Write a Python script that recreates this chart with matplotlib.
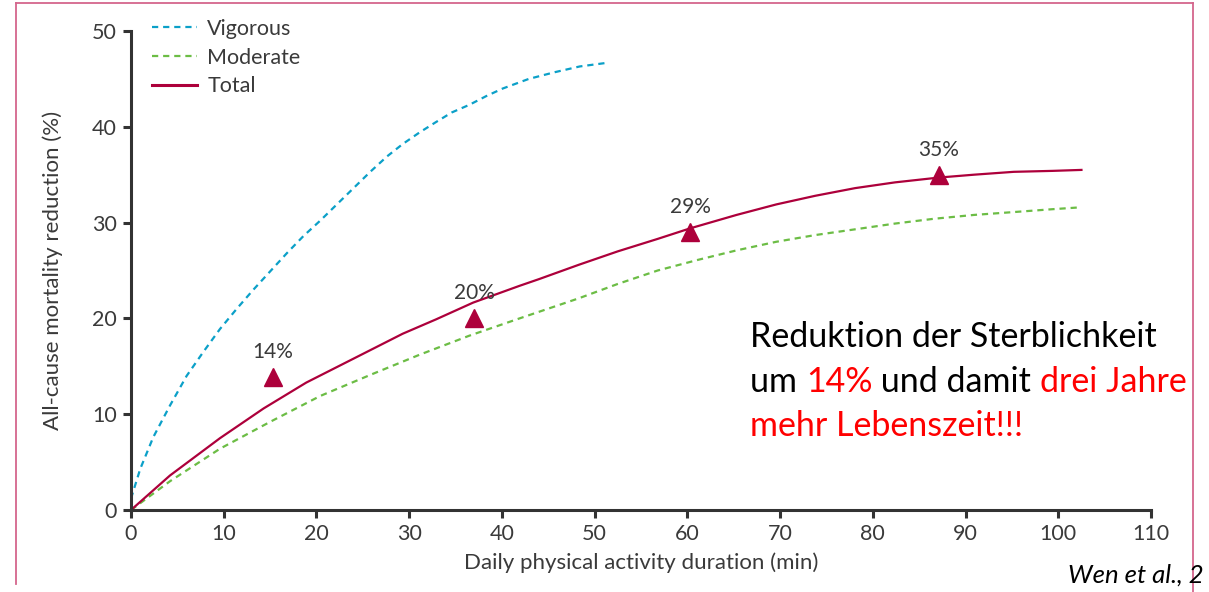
import matplotlib
matplotlib.use("Agg")
import matplotlib.pyplot as plt
from matplotlib.lines import Line2D

plt.rcParams['font.family'] = ['Lato', 'DejaVu Sans']

# curves (minutes, % reduction)
vig_x = [0, 1.0, 2.4, 4.2, 6.0, 7.8, 9.6, 11.4, 13.2, 15.0, 16.8, 18.6, 20.4, 22.2, 24.0,
         25.8, 27.6, 29.3, 31.1, 32.9, 34.6, 36.5, 38.3, 40.1, 42.9, 45.7, 48.4, 51.5]
vig_y = [1.2, 4.3, 7.6, 10.9, 14.0, 16.5, 18.9, 21.0, 23.0, 24.9, 26.8, 28.6, 30.2, 31.9, 33.6,
         35.3, 36.9, 38.2, 39.4, 40.5, 41.5, 42.3, 43.2, 44.0, 45.0, 45.7, 46.3, 46.7]

mod_x = [0, 4.2, 9.6, 15.0, 20.4, 25.8, 31.1, 36.5, 41.9, 48.3, 52.5, 56.8, 61.1, 65.3,
         69.6, 73.8, 78.1, 82.4, 86.6, 90.9, 95.2, 99.4, 102.5]
mod_y = [0, 3.0, 6.4, 9.2, 11.9, 14.1, 16.2, 18.2, 20.0, 22.1, 23.6, 25.0, 26.1, 27.1,
         28.0, 28.7, 29.3, 29.9, 30.4, 30.8, 31.1, 31.4, 31.6]

tot_x = [0, 4.2, 9.6, 14.3, 18.9, 24.0, 29.3, 32.9, 36.9, 41.9, 44.0, 48.3, 52.5, 56.8,
         60.3, 65.3, 69.6, 73.8, 78.1, 82.4, 87.1, 90.9, 95.2, 99.4, 102.5]
tot_y = [0, 3.6, 7.5, 10.6, 13.3, 15.8, 18.4, 19.9, 21.65, 23.4, 24.1, 25.6, 27.0, 28.3,
         29.4, 30.8, 31.9, 32.8, 33.6, 34.2, 34.7, 35.0, 35.3, 35.4, 35.5]

pt_x = [15.3, 37.0, 60.3, 87.1]
pt_y = [13.9, 20.0, 29.0, 35.0]
pt_labels = ['14%', '20%', '29%', '35%']

blue = '#0ba0c8'
green = '#6cbd45'
crimson = '#ad003b'
dark = '#333333'
txt = '#3a3a3a'

fig = plt.figure(figsize=(12.09, 5.92), dpi=100)
ax = fig.add_axes([131 / 1209, 1 - 510 / 592, 1020 / 1209, 479 / 592])

ax.plot(vig_x, vig_y, color=blue, lw=1.6, dashes=(2.8, 2.2))
ax.plot(mod_x, mod_y, color=green, lw=1.6, dashes=(2.8, 2.2))
ax.plot(tot_x, tot_y, color=crimson, lw=1.6)
ax.plot(pt_x, pt_y, ls='none', marker='^', ms=13, color=crimson, mec=crimson)
for x, y, s in zip(pt_x, pt_y, pt_labels):
    ax.annotate(s, (x, y), xytext=(0, 18), textcoords='offset points',
                ha='center', va='center', fontsize=15, color=txt)

ax.set_xlim(0, 110)
ax.set_ylim(0, 50)
ax.set_xticks(range(0, 111, 10))
ax.set_yticks(range(0, 51, 10))
for side in ['top', 'right']:
    ax.spines[side].set_visible(False)
for side in ['left', 'bottom']:
    ax.spines[side].set_linewidth(2.2)
    ax.spines[side].set_color(dark)
ax.tick_params(length=6, width=2.2, color=dark, labelcolor=txt, labelsize=15.5, pad=4)
ax.set_xlabel('Daily physical activity duration (min)', fontsize=16, color=txt, labelpad=6)
ax.set_ylabel('All-cause mortality reduction (%)', fontsize=16, color=txt, labelpad=21)

handles = [Line2D([], [], color=blue, lw=1.6, dashes=(2.8, 2.2)),
           Line2D([], [], color=green, lw=1.6, dashes=(2.8, 2.2)),
           Line2D([], [], color=crimson, lw=2.2)]
ax.legend(handles, ['Vigorous', 'Moderate', 'Total'], loc='upper left',
          bbox_to_anchor=(21 / 1020, 1.025), borderaxespad=0, borderpad=0,
          frameon=False, fontsize=15.5, handlelength=2.1, handletextpad=0.47,
          labelspacing=0.4, labelcolor=txt)

# annotation with coloured words, laid out segment after segment
lines = [[('Reduktion der Sterblichkeit', 'black')],
         [('um ', 'black'), ('14%', 'red'), (' und damit ', 'black'), ('drei Jahre', 'red')],
         [('mehr Lebenszeit!!!', 'red')]]
for i, segs in enumerate(lines):
    last = None
    for s, c in segs:
        if last is None:
            last = fig.text(750 / 1209, 1 - (353 + i * 44.7) / 592, s, color=c,
                            fontsize=24.5, ha='left', va='bottom')
        else:
            last = ax.annotate(s, xy=(1, 0), xycoords=last, color=c, fontsize=24.5,
                               ha='left', va='bottom', annotation_clip=False)

fig.text(1068 / 1209, 1 - 583 / 592, 'Wen et al., 2', fontsize=18.5, style='italic',
         color='black', ha='left', va='baseline')

# pink frame
frame = '#d4668c'
fig.add_artist(Line2D([16 / 1209, 16 / 1209], [1 - 584 / 592, 1 - 3 / 592],
                      color=frame, lw=1.3, transform=fig.transFigure))
fig.add_artist(Line2D([16 / 1209, 1193 / 1209], [1 - 3 / 592, 1 - 3 / 592],
                      color=frame, lw=1.3, transform=fig.transFigure))
fig.add_artist(Line2D([1193 / 1209, 1193 / 1209], [0, 1 - 3 / 592],
                      color=frame, lw=1.3, transform=fig.transFigure))

fig.savefig('out.png', dpi=100)
